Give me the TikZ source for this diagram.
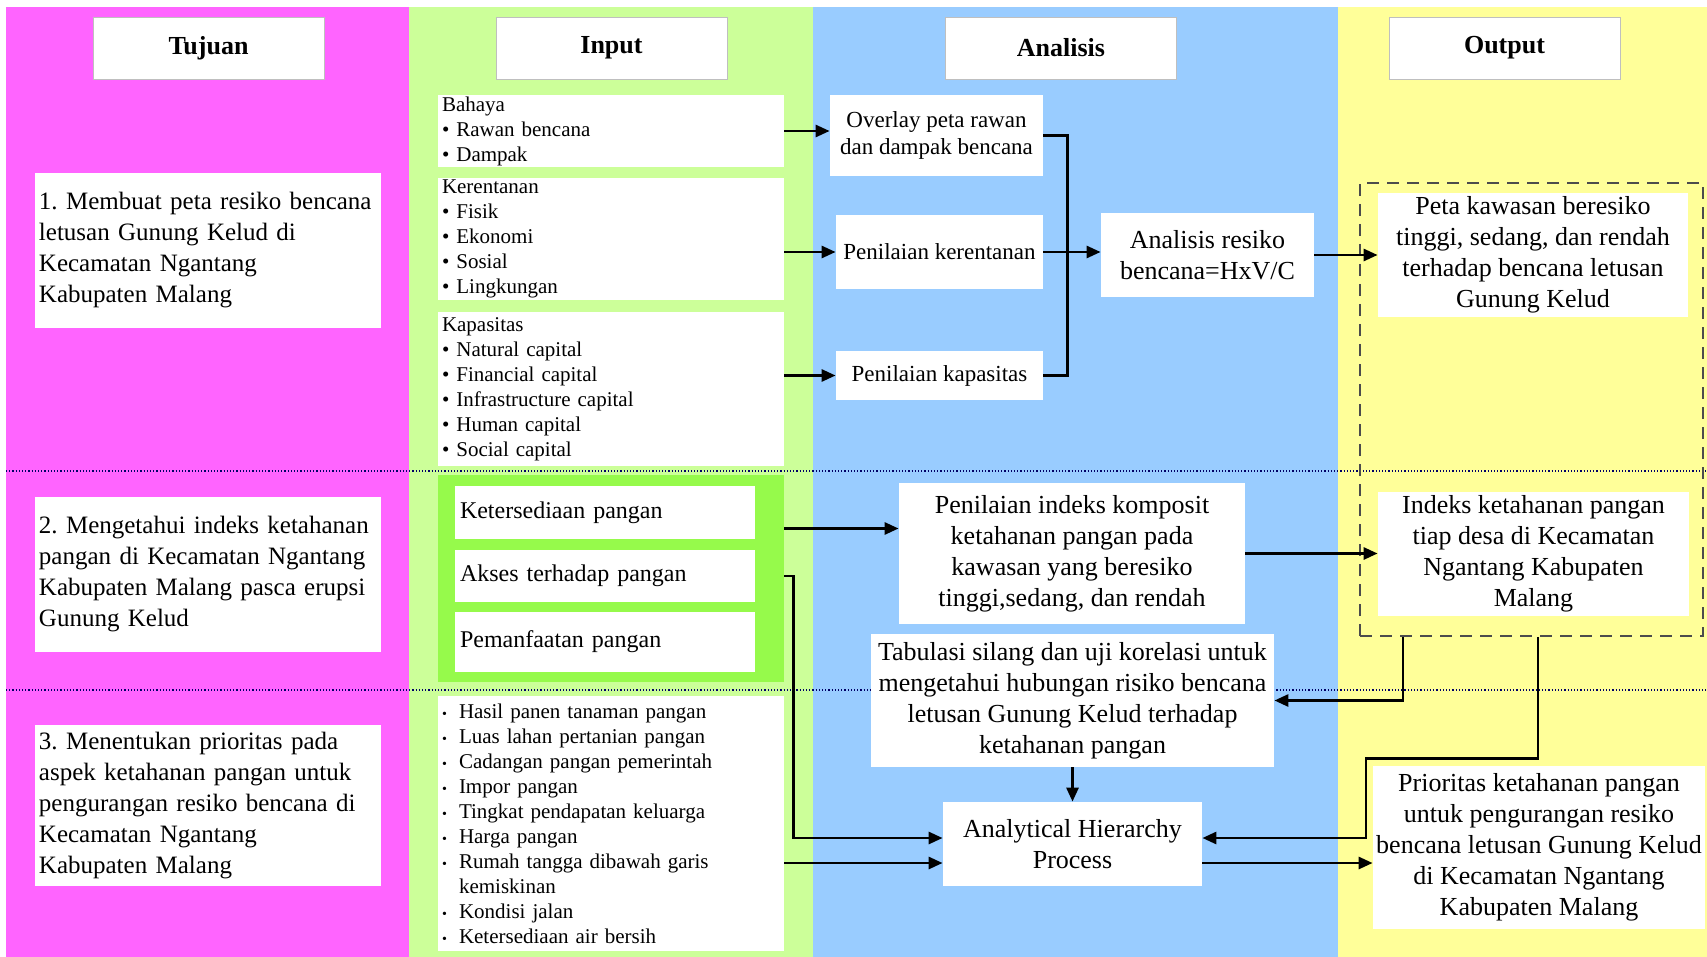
\documentclass[tikz,border=0pt]{standalone}
\usepackage{fontspec}
\setmainfont{Liberation Serif}
\usepackage{tikz}
\usetikzlibrary{arrows.meta,positioning,calc}
\definecolor{pinkc}{RGB}{255,100,255}
\definecolor{greenc}{RGB}{204,255,153}
\definecolor{bluec}{RGB}{153,204,255}
\definecolor{yellowc}{RGB}{255,255,153}
\definecolor{limec}{RGB}{150,250,75}
\newcommand{\fs}[2]{\fontsize{#1}{#2}\selectfont}
\newcommand{\ib}{\makebox[8.5pt][l]{\scriptsize\textbullet}}
\frenchspacing

\begin{document}
\begin{tikzpicture}[x=0.5pt, y=-0.5pt,
  head/.style={draw=gray!50, fill=white, font=\fs{13}{15}\bfseries,
               minimum width=115.5pt, minimum height=31pt},
  goal/.style={fill=white, text width=169pt, inner xsep=2pt, align=left,
               font=\fs{12.5}{15.5}, minimum height=77.5pt},
  inbox/.style={fill=white, text width=169pt, inner xsep=2pt, inner ysep=0pt,
                align=left, font=\fs{10.5}{12.5}},
  pangan/.style={fill=white, text width=145pt, inner xsep=2.5pt, align=left,
                 font=\fs{12}{14}},
  ana/.style={fill=white, align=center, inner sep=0pt, font=\fs{11.5}{13.5}},
  big/.style={fill=white, align=center, inner sep=0pt, font=\fs{13}{15.5}},
  dotline/.style={densely dotted, draw=blue!40!black, line width=0.6pt},
  ln/.style={line width=1.4pt},
  arr/.style={line width=1.4pt, -{Triangle[length=7pt,width=6pt]}}
]
  \useasboundingbox (0,0) rectangle (1707,957);
  % columns
  \fill[pinkc] (6,7) rectangle (409,957);
  \fill[greenc] (409,7) rectangle (813,957);
  \fill[bluec] (813,7) rectangle (1338,957);
  \fill[yellowc] (1338,7) rectangle (1707,957);
  \draw[dotline] (6,471) -- (1707,471);
  \draw[dotline] (6,690) -- (1707,690);

  % headers
  \node[head] (hTuj) at (208.5,48) {Tujuan};
  \node[head] (hInp) at (611.5,48) {Input};
  \node[head] (hAna) at (1061,48) {Analisis};
  \node[head] (hOut) at (1504.5,48) {Output};

  % tujuan
  \node[goal] (g1) at (208,250.5) {1. Membuat peta resiko bencana\\
        letusan Gunung Kelud di\\ Kecamatan Ngantang\\ Kabupaten Malang};
  \node[goal] (g2) at (208,574.5) {2. Mengetahui indeks ketahanan\\
        pangan di Kecamatan Ngantang\\ Kabupaten Malang pasca erupsi\\ Gunung Kelud};
  \node[goal] (g3) at (208,805.5) {3. Menentukan prioritas pada\\
        aspek ketahanan pangan untuk\\ pengurangan resiko bencana di\\
        Kecamatan Ngantang\\ Kabupaten Malang};

  % input
  \node[inbox, minimum height=36pt] (bahaya) at (611,131) {Bahaya\\
        \textbullet{} Rawan bencana\\ \textbullet{} Dampak};
  \node[inbox, minimum height=61pt] (keren) at (611,239) {Kerentanan\\
        \textbullet{} Fisik\\ \textbullet{} Ekonomi\\ \textbullet{} Sosial\\
        \textbullet{} Lingkungan};
  \node[inbox, minimum height=77pt] (kapas) at (611,389) {Kapasitas\\
        \textbullet{} Natural capital\\ \textbullet{} Financial capital\\
        \textbullet{} Infrastructure capital\\ \textbullet{} Human capital\\
        \textbullet{} Social capital};
  \node[fill=limec, minimum width=173pt, minimum height=103.5pt] (frame) at (611,578.5) {};
  \node[pangan, minimum height=26.5pt] (keter) at (605,512.5) {Ketersediaan pangan};
  \node[pangan, minimum height=26pt] (akses) at (605,576) {Akses terhadap pangan};
  \node[pangan, minimum height=30pt] (manfaat) at (605,642) {Pemanfaatan pangan};
  \node[inbox, minimum height=127.5pt] (indik) at (611,823.5) {\ib Hasil panen tanaman pangan\\
        \ib Luas lahan pertanian pangan\\ \ib Cadangan pangan pemerintah\\
        \ib Impor pangan\\ \ib Tingkat pendapatan keluarga\\ \ib Harga pangan\\
        \ib Rumah tangga dibawah garis\\ \hspace*{8.5pt}kemiskinan\\
        \ib Kondisi jalan\\ \ib Ketersediaan air bersih};

  % analisis
  \node[ana, minimum width=106.5pt, minimum height=40.5pt] (overlay) at (936.5,135.5)
        {Overlay peta rawan\\ dan dampak bencana};
  \node[ana, minimum width=103.5pt, minimum height=36.5pt] (pker) at (939.5,252)
        {Penilaian kerentanan};
  \node[ana, minimum width=103.5pt, minimum height=24.5pt] (pkap) at (939.5,375.5)
        {Penilaian kapasitas};
  \node[big, minimum width=106.5pt, minimum height=41.5pt] (resiko) at (1207.5,255)
        {Analisis resiko\\ bencana=HxV/C};
  \node[big, minimum width=173pt, minimum height=70.5pt] (komp) at (1072,553.5)
        {Penilaian indeks komposit\\ ketahanan pangan pada\\ kawasan yang beresiko\\
         tinggi,sedang, dan rendah};
  \node[big, minimum width=201.5pt, minimum height=66.5pt] (tab) at (1072.5,700.5)
        {Tabulasi silang dan uji korelasi untuk\\ mengetahui hubungan risiko bencana\\
         letusan Gunung Kelud terhadap\\ ketahanan pangan};
  \node[big, minimum width=129.5pt, minimum height=42pt] (ahp) at (1072.5,844)
        {Analytical Hierarchy\\ Process};

  % output
  \node[draw=black!70, dash pattern=on 6pt off 4pt, line width=0.8pt,
        minimum width=171.5pt, minimum height=226.5pt] (grp) at (1531.5,409.5) {};
  \node[big, minimum width=155pt, minimum height=61.5pt] (peta) at (1533,255)
        {Peta kawasan beresiko\\ tinggi, sedang, dan rendah\\ terhadap bencana letusan\\
         Gunung Kelud};
  \node[big, minimum width=155.5pt, minimum height=62pt] (indeks) at (1533.5,554)
        {Indeks ketahanan pangan\\ tiap desa di Kecamatan\\ Ngantang Kabupaten\\ Malang};
  \node[big, minimum width=166pt, minimum height=81.5pt] (prio) at (1539,847.5)
        {Prioritas ketahanan pangan\\ untuk pengurangan resiko\\
         bencana letusan Gunung Kelud\\ di Kecamatan Ngantang\\ Kabupaten Malang};

  % connectors
  \draw[arr] (bahaya.east |- 0,131) -- (overlay.west |- 0,131);
  \draw[arr] (pker.west -| keren.east) -- (pker.west);
  \draw[arr] (pkap.west -| kapas.east) -- (pkap.west);
  \draw[ln] (overlay.east) -- ++(24,0) |- (pkap.east);
  \draw[arr] (pker.east) -- (pker.east -| resiko.west);
  \draw[arr] (resiko.east) -- (resiko.east -| peta.west);
  \draw[arr] ([yshift=-8pt]keter.east -| frame.east) -- ([yshift=-8pt]keter.east -| komp.west);
  \draw[arr] (akses.east -| frame.east) -- ++(9,0) |- ([yshift=3pt]ahp.west);
  \draw[arr] ([yshift=-9.5pt]ahp.west -| indik.east) -- ([yshift=-9.5pt]ahp.west);
  \draw[arr] (komp.east) -- (komp.east -| indeks.west);
  \draw[arr] ([xshift=-64.25pt]grp.south) |- (tab.east);
  \draw[arr] ([xshift=3.25pt]grp.south) -- ++(0,122) -- ++(-172,0) |- ([yshift=3pt]ahp.east);
  \draw[arr] (tab.south) -- (ahp.north);
  \draw[arr] ([yshift=-9.5pt]ahp.east) -- ([yshift=-9.5pt]ahp.east -| prio.west);
\end{tikzpicture}
\end{document}
